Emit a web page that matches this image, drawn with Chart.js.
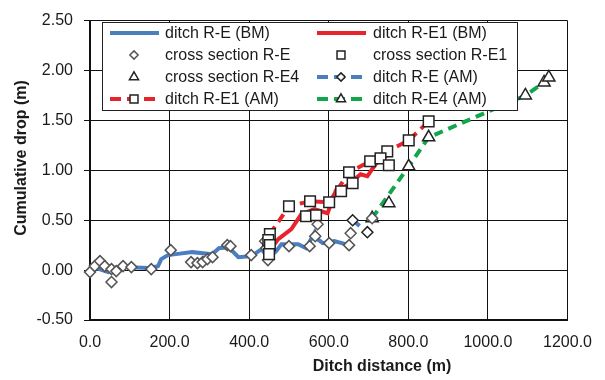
<!DOCTYPE html>
<html>
<head>
<meta charset="utf-8">
<script src="https://cdn.jsdelivr.net/npm/chart.js@4/dist/chart.umd.min.js"></script>
<style>
  html, body { margin: 0; padding: 0; background: #fff; }
</style>
</head>
<body>
<canvas id="myChart" width="605" height="380"></canvas>
<script>
// axis ticks
const X_TICKS = [0, 200, 400, 600, 800, 1000, 1200]
const Y_TICKS = [-0.5, 0, 0.5, 1.0, 1.5, 2.0, 2.5]
const X_TITLE = "Ditch distance (m)"
const Y_TITLE = "Cumulative drop (m)"

// ditch R-E (BM) - solid blue
const BM_E_X = [0, 9, 46, 84, 146, 171, 179, 196, 216, 257, 307, 324, 348, 373, 406, 431, 448, 468, 481, 523, 543, 565, 575, 585, 614, 651]
const BM_E_Y = [0.00, 0.03, -0.02, 0.03, 0.02, 0.04, 0.11, 0.15, 0.16, 0.18, 0.16, 0.22, 0.23, 0.13, 0.14, 0.21, 0.12, 0.19, 0.26, 0.26, 0.22, 0.38, 0.30, 0.27, 0.29, 0.25]

// ditch R-E1 (BM) - solid red
const BM_E1_X = [462, 473, 506, 531, 564, 597, 618, 647, 680, 697, 714, 730, 754]
const BM_E1_Y = [0.25, 0.31, 0.41, 0.56, 0.61, 0.57, 0.80, 0.85, 0.96, 0.94, 1.04, 1.12, 1.16]

// cross section R-E - diamonds
const CS_E_X = [0, 12, 25, 37, 54, 54, 66, 83, 104, 154, 203, 254, 270, 283, 295, 308, 345, 353, 405, 440, 443, 447, 500, 552, 566, 572, 601, 651, 655, 709]
const CS_E_Y = [-0.02, 0.04, 0.09, 0.04, 0.01, -0.12, -0.01, 0.04, 0.03, 0.01, 0.20, 0.08, 0.07, 0.08, 0.11, 0.13, 0.25, 0.24, 0.15, 0.29, 0.22, 0.10, 0.24, 0.24, 0.34, 0.46, 0.27, 0.25, 0.37, 0.52]

// cross section R-E1 - squares
const CS_E1_X = [448, 452, 450, 543, 568, 631, 660, 730, 751]
const CS_E1_Y = [0.30, 0.25, 0.16, 0.54, 0.55, 0.79, 0.87, 1.12, 1.05]

// cross section R-E4 - triangles
const CS_E4_X = [751]
const CS_E4_Y = [0.67]

// ditch R-E (AM) - dashed blue with diamonds
const AM_E_X = [660, 697]
const AM_E_Y = [0.50, 0.38]

// ditch R-E1 (AM) - dashed red with squares
const AM_E1_X = [452, 500, 553, 601, 651, 704, 747, 801, 851]
const AM_E1_Y = [0.36, 0.64, 0.69, 0.68, 0.98, 1.09, 1.19, 1.30, 1.49]

// ditch R-E4 (AM) - dashed green with triangles
const AM_E4_X = [709, 801, 851, 1094, 1141, 1153]
const AM_E4_Y = [0.52, 1.04, 1.33, 1.75, 1.88, 1.93]

const BLUE = '#4A7EBE'
const RED = '#E8232B'
const GREEN = '#12A54B'
const FONT = '"Liberation Sans", Arial, sans-serif'

function pts(xs, ys) {
  return xs.map((x, i) => ({ x: x, y: ys[i] }))
}

function lineSet(label, xs, ys, color, dash, style, radius) {
  return {
    label: label,
    data: pts(xs, ys),
    showLine: true,
    borderColor: color,
    borderWidth: 4,
    borderDash: dash,
    tension: 0,
    pointStyle: style || 'circle',
    pointRadius: radius || 0,
    pointBackgroundColor: '#fff',
    pointBorderColor: '#222',
    pointBorderWidth: 1.5,
    clip: false
  }
}

function markSet(label, xs, ys, style, radius, edge) {
  return {
    label: label,
    data: pts(xs, ys),
    showLine: false,
    pointStyle: style,
    pointRadius: radius,
    pointBackgroundColor: '#fff',
    pointBorderColor: edge,
    pointBorderWidth: 1.5,
    clip: false
  }
}

// legend order: two columns, four rows
const datasets = [
  lineSet('ditch R-E (BM)', BM_E_X, BM_E_Y, BLUE, []),
  lineSet('ditch R-E1 (BM)', BM_E1_X, BM_E1_Y, RED, []),
  markSet('cross section R-E', CS_E_X, CS_E_Y, 'rectRot', 5.5, '#555'),
  markSet('cross section R-E1', CS_E1_X, CS_E1_Y, 'rect', 7.5, '#222'),
  markSet('cross section R-E4', CS_E4_X, CS_E4_Y, 'triangle', 7, '#222'),
  lineSet('ditch R-E (AM)', AM_E_X, AM_E_Y, BLUE, [9, 6], 'rectRot', 5.5),
  lineSet('ditch R-E1 (AM)', AM_E1_X, AM_E1_Y, RED, [9, 6], 'rect', 7.5),
  lineSet('ditch R-E4 (AM)', AM_E4_X, AM_E4_Y, GREEN, [9, 6], 'triangle', 7)
]
// draw order: solid lines at the bottom, markers on top
const drawOrder = [9, 8, 2, 1, 0, 5, 4, 3]
datasets.forEach((d, i) => { d.order = drawOrder[i] })


function drawMarker(ctx, style, x, y, r, edge) {
  ctx.beginPath()
  if (style === 'rect') {
    const s = r * Math.SQRT1_2
    ctx.rect(x - s, y - s, 2 * s, 2 * s)
  } else if (style === 'rectRot') {
    ctx.moveTo(x, y - r)
    ctx.lineTo(x + r, y)
    ctx.lineTo(x, y + r)
    ctx.lineTo(x - r, y)
    ctx.closePath()
  } else if (style === 'triangle') {
    let a = 0
    ctx.moveTo(x + Math.sin(a) * r, y - Math.cos(a) * r)
    a += Math.PI * 2 / 3
    ctx.lineTo(x + Math.sin(a) * r, y - Math.cos(a) * r)
    a += Math.PI * 2 / 3
    ctx.lineTo(x + Math.sin(a) * r, y - Math.cos(a) * r)
    ctx.closePath()
  }
  ctx.fillStyle = '#fff'
  ctx.fill()
  ctx.strokeStyle = edge
  ctx.lineWidth = 1.5
  ctx.stroke()
}


function drawLegend(chart) {
  const ctx = chart.ctx
  ctx.save()
  ctx.fillStyle = '#fff'
  ctx.fillRect(102, 22, 415, 88)
  ctx.strokeStyle = '#222'
  ctx.lineWidth = 1
  ctx.strokeRect(102.5, 22.5, 415, 88)

  const colSym = [110, 317]
  const colText = [165, 373]
  const rowY = [33, 55, 77, 99]
  ctx.font = '16px ' + FONT
  ctx.textBaseline = 'middle'
  ctx.textAlign = 'left'

  chart.data.datasets.forEach((d, i) => {
    const col = i % 2
    const row = Math.floor(i / 2)
    const x0 = colSym[col]
    const y = rowY[row]
    if (d.showLine) {
      ctx.save()
      ctx.strokeStyle = d.borderColor
      ctx.lineWidth = 4
      ctx.setLineDash(d.borderDash.length ? [11, 6] : [])
      ctx.beginPath()
      ctx.moveTo(x0, y)
      ctx.lineTo(x0 + 49, y)
      ctx.stroke()
      ctx.restore()
    }
    if (d.pointRadius > 0) {
      drawMarker(ctx, d.pointStyle, x0 + 24, y, d.pointRadius * 0.75, d.pointBorderColor)
    }
    ctx.fillStyle = '#1a1a1a'
    ctx.fillText(d.label, colText[col], y + 1)
  })
  ctx.restore()
}


const extras = {
  id: 'extras',
  afterDraw(chart) {
    drawLegend(chart)
    const ctx = chart.ctx
    ctx.save()
    ctx.fillStyle = '#1a1a1a'
    ctx.font = 'bold 16px ' + FONT
    ctx.textAlign = 'center'
    ctx.textBaseline = 'middle'
    ctx.fillText(X_TITLE, 382, 367)
    ctx.translate(22, 158)
    ctx.rotate(-Math.PI / 2)
    ctx.fillText(Y_TITLE, 0, 0)
    ctx.restore()
  }
}


const ctx = document.getElementById('myChart')
const myChart = new Chart(ctx, {
  type: 'scatter',
  data: { datasets: datasets },
  plugins: [extras],
  options: {
    responsive: false,
    animation: false,
    layout: { padding: { left: 0, top: 17, right: 34, bottom: 0 } },
    plugins: {
      legend: { display: false },
      tooltip: { enabled: false }
    },
    scales: {
      x: {
        type: 'linear',
        min: X_TICKS[0],
        max: X_TICKS[X_TICKS.length - 1],
        afterBuildTicks: (s) => { s.ticks = X_TICKS.map(v => ({ value: v })) },
        afterFit: (s) => { s.height = 60 },
        grid: { color: '#111', lineWidth: 1, drawTicks: false },
        border: { color: '#111', width: 2 },
        ticks: {
          padding: 13,
          color: '#1a1a1a',
          font: { family: FONT, size: 16 },
          maxRotation: 0,
          callback: (v) => Number(v).toFixed(1)
        }
      },
      y: {
        min: Y_TICKS[0],
        max: Y_TICKS[Y_TICKS.length - 1],
        afterBuildTicks: (s) => { s.ticks = Y_TICKS.map(v => ({ value: v })) },
        afterFit: (s) => { s.width = 90 },
        grid: { color: '#111', lineWidth: 1, drawTicks: true, tickLength: 6 },
        border: { color: '#111', width: 2 },
        ticks: {
          padding: 11,
          color: '#1a1a1a',
          font: { family: FONT, size: 16 },
          callback: (v) => Number(v).toFixed(2)
        }
      }
    }
  }
})
</script>
</body>
</html>
